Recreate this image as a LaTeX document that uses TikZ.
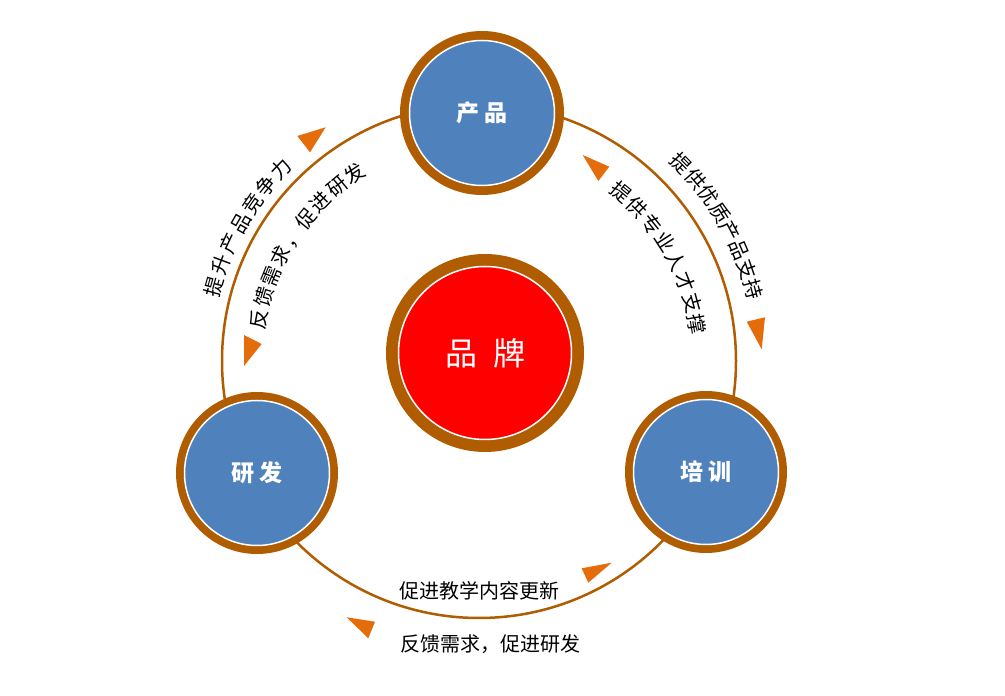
\documentclass[tikz,border=0pt]{standalone}
\usepackage{fontspec}
\newfontfamily\cjk{Noto Sans CJK SC}
\usetikzlibrary{decorations.text,calc}
\definecolor{ringbrown}{RGB}{176,92,0}
\definecolor{discblue}{RGB}{79,129,189}
\definecolor{discred}{RGB}{255,0,0}
\definecolor{triorange}{RGB}{228,108,10}
\begin{document}
\begin{tikzpicture}[x=1pt,y=1pt,
  ringdisc/.style={circle, fill=ringbrown, inner sep=0pt, minimum size=#1},
  bluedisc/.style={circle, fill=discblue, draw=white, line width=1.5pt, inner sep=0pt,
    minimum size=145pt, text=white, font=\cjk\fontsize{23}{23}\selectfont\bfseries},
  reddisc/.style={circle, fill=discred, draw=white, line width=1.5pt, inner sep=0pt,
    minimum size=173pt, text=white, font=\cjk\fontsize{32}{32}\selectfont},
  looptrack/.style={draw=ringbrown, line width=2.5pt},
  flowtri/.style={fill=triorange},
  plainlabel/.style={font=\cjk\fontsize{20}{24}\selectfont, inner sep=0pt},
  arclabel/.style={decorate, decoration={text along path, text align={fit to path}, text={|\cjk\fontsize{20}{24}\selectfont|#1}}}
]
\useasboundingbox (0,0) rectangle (1005,696);
\coordinate (O) at (479,335);
\coordinate (T) at (481,335);

% main loop
\draw[looptrack] (O) circle[radius=257pt];

% circles
\node[ringdisc=164pt] (pring) at (482,583) {};
\node[bluedisc] (prod) at (pring) {产\hspace{0.25em}品};
\node[ringdisc=162pt] (rring) at (257,223) {};
\node[bluedisc] (rd) at (rring) {研\hspace{0.25em}发};
\node[ringdisc=162pt] (tring) at (706,224) {};
\node[bluedisc] (train) at (tring) {培\hspace{0.25em}训};
\node[ringdisc=198pt] (bring) at (485,343) {};
\node[reddisc] (brand) at (bring) {品\hspace{0.5em}牌};

% direction triangles
\fill[flowtri] (297.3,560) -- (325.7,568.7) -- (310,543.7) -- cycle;
\fill[flowtri] (244,361) -- (261.7,352) -- (244,330) -- cycle;
\fill[flowtri] (582.7,541) -- (609.3,529.3) -- (598.3,515) -- cycle;
\fill[flowtri] (746.7,374.3) -- (765,378.7) -- (761.7,346.7) -- cycle;
\fill[flowtri] (581.7,127.7) -- (611.7,133.3) -- (588.3,113.3) -- cycle;
\fill[flowtri] (346.7,78.7) -- (375,74.3) -- (368.3,57.7) -- cycle;

% curved labels
\path[arclabel={提升产品竞争力}] ($(T)+(166.5:269.5pt)$) arc[start angle=166.5, end angle=134, radius=269.5pt];
\path[arclabel={反馈需求，促进研发}] ($(T)+(171.9:218.5pt)$) arc[start angle=171.9, end angle=121.3, radius=218.5pt];
\path[arclabel={提供优质产品支持}] ($(T)+(46.7:273.5pt)$) arc[start angle=46.7, end angle=12.6, radius=273.5pt];
\path[arclabel={提供专业人才支撑}] ($(T)+(53:211.5pt)$) arc[start angle=53, end angle=6.9, radius=211.5pt];

% bottom labels
\node[plainlabel] (lb1) at (479,105) {促进教学内容更新};
\node[plainlabel] (lb2) at (490,52) {反馈需求，促进研发};
\end{tikzpicture}
\end{document}
